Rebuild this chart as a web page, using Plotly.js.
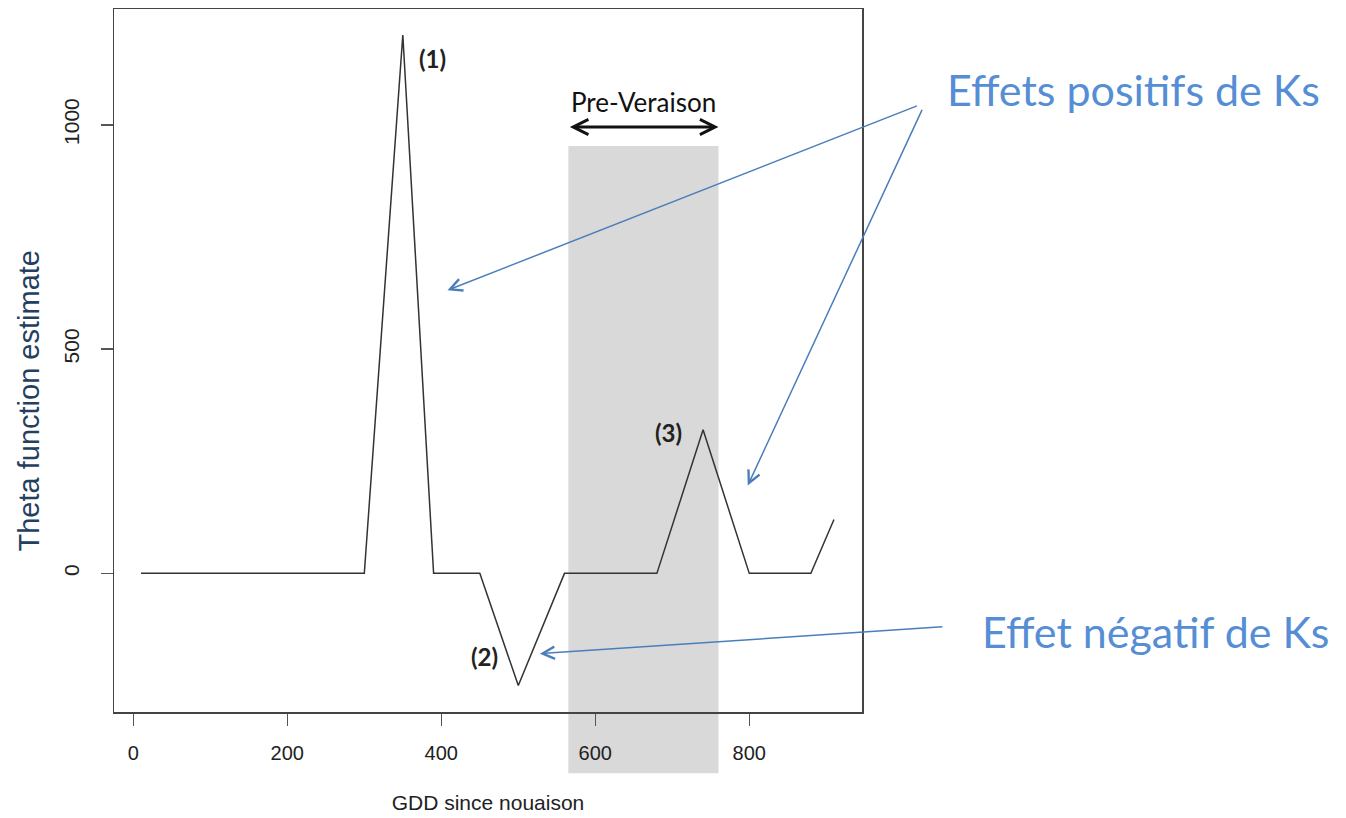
<!DOCTYPE html>
<html>
<head>
<meta charset="utf-8">
<script src="https://cdn.plot.ly/plotly-3.0.1.min.js"></script>
<style>html,body{margin:0;padding:0;background:#fff;}#chart{width:1346px;height:818px;}</style>
</head>
<body>
<div id="chart"></div>
<script>
// GDD since nouaison (x) and Theta function estimate (y)
const gdd   = [10, 300, 350, 390, 450, 500, 560, 680, 740, 800, 880, 910];
const theta = [0,  0,   1200, 0,  0,  -250, 0,  0,   320, 0,   0,   120];

// Pre-veraison window
const preVeraison = [565, 760];

const xTicks = [0, 200, 400, 600, 800];
const yTicks = [0, 500, 1000];

const peakLabels = ['(1)', '(2)', '(3)'];
const peakX = [350, 500, 740];
const peakY = [1200, -250, 320];

const blue = '#4a7ebb';
const blueText = '#558ed5';

const trace = {
  x: gdd, y: theta, type: 'scatter', mode: 'lines',
  line: {color: '#333333', width: 1.5},
  hoverinfo: 'x+y', showlegend: false
};

const boldFont = {family: 'Lato, "Open Sans", sans-serif', size: 24, color: '#222'};
const blueFont = {family: 'Lato, "Open Sans", sans-serif', size: 43, color: blueText};

const layout = {
  width: 1346, height: 818,
  margin: {l: 114, r: 484, t: 9, b: 106, pad: 0},
  paper_bgcolor: '#ffffff',
  plot_bgcolor: 'rgba(0,0,0,0)',
  font: {family: '"Liberation Sans", Arial, sans-serif', color: '#222'},
  showlegend: false,
  xaxis: {
    range: [-25.1, 946.4], autorange: false,
    tickvals: xTicks, ticktext: xTicks.map(String),
    ticks: 'outside', ticklen: 12, tickwidth: 1.5, tickcolor: '#555',
    showgrid: false, zeroline: false,
    showline: true, mirror: true, linecolor: '#444', linewidth: 1.5,
    tickfont: {size: 20, color: '#222'},
    ticklabelstandoff: 10,
    title: {text: 'GDD since nouaison', font: {size: 21, color: '#222'}, standoff: 33},
    automargin: false
  },
  yaxis: {
    range: [-309, 1258], autorange: false,
    tickvals: yTicks, ticktext: yTicks.map(String),
    tickangle: -90,
    ticks: 'outside', ticklen: 12, tickwidth: 1.5, tickcolor: '#555',
    showgrid: false, zeroline: false,
    showline: true, mirror: true, linecolor: '#444', linewidth: 1.5,
    tickfont: {size: 21, color: '#222'},
    ticklabelstandoff: 13,
    title: {text: 'Theta function estimate' + '\u00a0'.repeat(10) + '\u200b', font: {size: 29, color: '#243f60'}, standoff: 12},
    automargin: false
  },
  shapes: [
    {type: 'rect', xref: 'x', yref: 'paper', x0: preVeraison[0], x1: preVeraison[1],
     y0: -0.087, y1: 0.805, fillcolor: '#d9d9d9', line: {width: 0}, layer: 'below'}
  ],
  annotations: [
    // peak labels
    {x: peakX[0], y: peakY[0], xref: 'x', yref: 'y', text: '<b>' + peakLabels[0] + '</b>', showarrow: false,
     xanchor: 'center', yanchor: 'middle', xshift: 30, yshift: -23, font: boldFont},
    {x: peakX[1], y: peakY[1], xref: 'x', yref: 'y', text: '<b>' + peakLabels[1] + '</b>', showarrow: false,
     xanchor: 'center', yanchor: 'middle', xshift: -34, yshift: 29, font: boldFont},
    {x: peakX[2], y: peakY[2], xref: 'x', yref: 'y', text: '<b>' + peakLabels[2] + '</b>', showarrow: false,
     xanchor: 'center', yanchor: 'middle', xshift: -35, yshift: -3, font: boldFont},
    // Pre-Veraison label and double arrow
    {x: (preVeraison[0] + preVeraison[1]) / 2, y: 102, xref: 'x', yref: 'paper', text: 'Pre-Veraison',
     xanchor: 'center', yanchor: 'middle',
     showarrow: false, font: {family: 'Lato, "Open Sans", sans-serif', size: 26, color: '#111'}},
    {x: preVeraison[1], y: 127, xref: 'x', yref: 'paper', ax: preVeraison[0], ay: 127, axref: 'x', ayref: 'paper',
     text: '', showarrow: true, arrowhead: 5, startarrowhead: 5, arrowside: 'end+start',
     arrowwidth: 3, arrowsize: 1, startarrowsize: 1, arrowcolor: '#111'},
    // blue commentary
    {x: 1133, y: 89, xref: 'paper', yref: 'paper', text: 'Effets positifs de Ks', showarrow: false,
     xanchor: 'center', yanchor: 'middle', font: blueFont},
    {x: 1156, y: 631, xref: 'paper', yref: 'paper', text: 'Effet négatif de Ks', showarrow: false,
     xanchor: 'center', yanchor: 'middle', font: blueFont},
    // blue arrows (head in data coords, tail offset in px)
    {x: 408, y: 631, xref: 'x', yref: 'y', ax: 471, ay: -185, text: '', showarrow: true,
     arrowhead: 5, arrowsize: 1.6, arrowwidth: 1.5, arrowcolor: blue, standoff: 0},
    {x: 798, y: 196, xref: 'x', yref: 'y', ax: 175, ay: -377, text: '', showarrow: true,
     arrowhead: 5, arrowsize: 1.6, arrowwidth: 1.5, arrowcolor: blue, standoff: 0},
    {x: 528, y: -179, xref: 'x', yref: 'y', ax: 404, ay: -27, text: '', showarrow: true,
     arrowhead: 5, arrowsize: 1.6, arrowwidth: 1.5, arrowcolor: blue, standoff: 0}
  ]
};

// free-floating text positions are given in page pixels; convert them to paper coords
const plotW = layout.width - layout.margin.l - layout.margin.r;
const plotH = layout.height - layout.margin.t - layout.margin.b;
layout.annotations.forEach(function (ann) {
  if (ann.xref === 'paper') ann.x = (ann.x - layout.margin.l) / plotW;
  if (ann.yref === 'paper') ann.y = (layout.height - layout.margin.b - ann.y) / plotH;
  if (ann.ayref === 'paper') ann.ay = (layout.height - layout.margin.b - ann.ay) / plotH;
});

Plotly.newPlot('chart', [trace], layout, {displayModeBar: false, staticPlot: true});
</script>
</body>
</html>
